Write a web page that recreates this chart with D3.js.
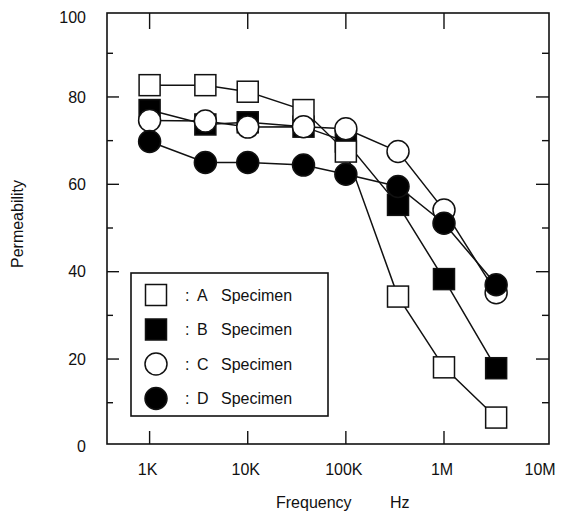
<!DOCTYPE html>
<html>
<head>
<meta charset="utf-8">
<script src="https://cdn.jsdelivr.net/npm/d3@7"></script>
<style>
  html, body { margin: 0; padding: 0; background: #fff; }
  svg { display: block; }
  text { font-family: "Liberation Sans", Arial, Helvetica, sans-serif; fill: #111; }
</style>
</head>
<body>
<svg id="chart" width="566" height="515"></svg>
<script>
// ---- data ----
const frequencies = [1000, 3700, 10000, 37000, 100000, 340000, 1000000, 3400000];
const seriesNames = ["A", "B", "C", "D"];
const seriesA = [82.7, 82.7, 81.2, 77.0, 67.5, 34.3, 18.1, 6.6];
const seriesB = [77.0, 73.7, 74.2, 73.2, 69.8, 55.3, 38.3, 17.9];
const seriesC = [74.6, 74.5, 73.1, 73.2, 72.7, 67.5, 54.1, 35.2];
const seriesD = [69.8, 65.0, 65.0, 64.4, 62.3, 59.5, 51.1, 37.0];
const xTickValues = [1e3, 1e4, 1e5, 1e6, 1e7];
const xTickLabels = ["1K", "10K", "100K", "1M", "10M"];
const yMajorTicks = [0, 20, 40, 60, 80, 100];
const yMinorTicks = [10, 30, 50, 70, 90];
const legendLabels = ["A  Specimen", "B  Specimen", "C  Specimen", "D  Specimen"];

// ---- layout ----
const svg = d3.select("#chart");
const frame = { left: 107, right: 549, top: 13, bottom: 444 };
const x = d3.scaleLog().domain([368, 1.175e7]).range([frame.left, frame.right]);
const y = d3.scaleLinear().domain([0, 100]).range([446.4, 9.6]);

const series = [
  { name: "A", values: seriesA, shape: "square", fill: "#fff" },
  { name: "B", values: seriesB, shape: "square", fill: "#000" },
  { name: "C", values: seriesC, shape: "circle", fill: "#fff" },
  { name: "D", values: seriesD, shape: "circle", fill: "#000" }
];

const sqSize = 21, circR = 11;

// frame
svg.append("rect")
  .attr("x", frame.left).attr("y", frame.top)
  .attr("width", frame.right - frame.left).attr("height", frame.bottom - frame.top)
  .attr("fill", "none").attr("stroke", "#111").attr("stroke-width", 1.6);

// y ticks left & right
const yt = svg.append("g").attr("stroke", "#111").attr("stroke-width", 1.4);
yMajorTicks.filter(v => v > 0 && v < 100).forEach(v => {
  yt.append("line").attr("x1", frame.left).attr("x2", frame.left + 12).attr("y1", y(v)).attr("y2", y(v));
  yt.append("line").attr("x1", frame.right).attr("x2", frame.right - 13).attr("y1", y(v)).attr("y2", y(v));
});
yMinorTicks.forEach(v => {
  yt.append("line").attr("x1", frame.left).attr("x2", frame.left + 6).attr("y1", y(v)).attr("y2", y(v));
  yt.append("line").attr("x1", frame.right).attr("x2", frame.right - 7).attr("y1", y(v)).attr("y2", y(v));
});
// y labels
svg.append("g").selectAll("text").data(yMajorTicks).join("text")
  .attr("x", 86).attr("y", d => Math.max(y(d), frame.top + 4)).attr("dy", "0.36em")
  .attr("text-anchor", "end").attr("font-size", 16).text(d => d);

// x ticks top & bottom (decades inside frame, excluding 10M)
const xt = svg.append("g").attr("stroke", "#111").attr("stroke-width", 1.4);
xTickValues.filter(v => v < 1e7).forEach(v => {
  xt.append("line").attr("x1", x(v)).attr("x2", x(v)).attr("y1", frame.top).attr("y2", frame.top + 16);
  xt.append("line").attr("x1", x(v)).attr("x2", x(v)).attr("y1", frame.bottom).attr("y2", frame.bottom - 13);
});
svg.append("g").selectAll("text").data(xTickValues).join("text")
  .attr("x", d => x(d) - 2).attr("y", 469).attr("dy", "0.36em")
  .attr("text-anchor", "middle").attr("font-size", 16)
  .text((d, i) => xTickLabels[i]);

// axis titles
svg.append("text").attr("x", 276).attr("y", 508).attr("font-size", 16).text("Frequency");
svg.append("text").attr("x", 390).attr("y", 508).attr("font-size", 16).text("Hz");
svg.append("text").attr("transform", "translate(23,224) rotate(-90)")
  .attr("text-anchor", "middle").attr("font-size", 16).text("Permeability");

// lines
const line = d3.line().x((d, i) => x(frequencies[i])).y(d => y(d));
series.forEach(s => {
  svg.append("path").attr("d", line(s.values))
    .attr("fill", "none").attr("stroke", "#111").attr("stroke-width", 1.5);
});

function drawMarker(g, shape, fill, cx, cy) {
  if (shape === "square") {
    g.append("rect").attr("x", cx - sqSize / 2).attr("y", cy - sqSize / 2)
      .attr("width", sqSize).attr("height", sqSize)
      .attr("fill", fill).attr("stroke", "#111").attr("stroke-width", 1.5);
  } else {
    g.append("circle").attr("cx", cx).attr("cy", cy).attr("r", circR)
      .attr("fill", fill).attr("stroke", "#111").attr("stroke-width", 1.5);
  }
}

// markers: order B, A, C, D
const drawOrder = ["B", "A", "C", "D"];
drawOrder.forEach(n => {
  const s = series.find(q => q.name === n);
  const g = svg.append("g");
  s.values.forEach((v, i) => drawMarker(g, s.shape, s.fill, x(frequencies[i]), y(v)));
});

// legend
const lg = svg.append("g");
lg.append("rect").attr("x", 131).attr("y", 273).attr("width", 197).attr("height", 143)
  .attr("fill", "#fff").attr("stroke", "#111").attr("stroke-width", 1.6);
series.forEach((s, i) => {
  const cy = 295 + i * 34.5;
  drawMarker(lg, s.shape, s.fill, 156, cy);
  lg.append("text").attr("x", 185).attr("y", cy).attr("dy", "0.36em").attr("font-size", 16).text(":");
  lg.append("text").attr("x", 197).attr("y", cy).attr("dy", "0.36em").attr("font-size", 16).text(legendLabels[i].split("  ")[0]);
  lg.append("text").attr("x", 221).attr("y", cy).attr("dy", "0.36em").attr("font-size", 16).text(legendLabels[i].split("  ")[1]);
});
</script>
</body>
</html>
